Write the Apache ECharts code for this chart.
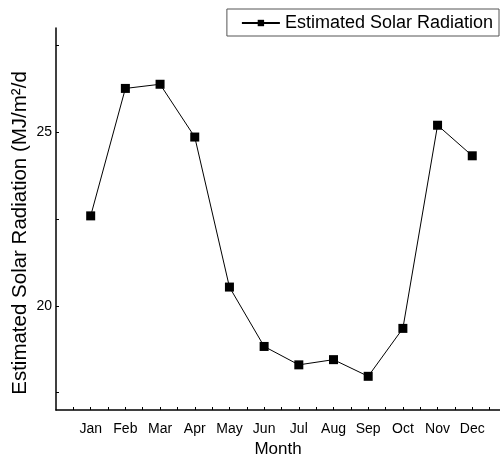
<!DOCTYPE html>
<html>
<head>
<meta charset="utf-8">
<script src="https://cdn.jsdelivr.net/npm/echarts@6/dist/echarts.min.js"></script>
<style>
  html, body { margin: 0; padding: 0; background: #fff; }
  #chart { width: 500px; height: 457px; }
</style>
</head>
<body>
<div id="chart"></div>
<script>
// monthly estimated solar radiation (MJ/m2/d)
const months = ['Jan', 'Feb', 'Mar', 'Apr', 'May', 'Jun', 'Jul', 'Aug', 'Sep', 'Oct', 'Nov', 'Dec'];
const radiation = [22.59, 26.26, 26.38, 24.86, 20.54, 18.83, 18.30, 18.45, 17.97, 19.35, 25.20, 24.32];
const yLabelValues = [20, 25];
const yTickValues = [17.5, 20, 22.5, 25, 27.5];

const font = 'Liberation Sans, Arial, sans-serif';
const xTickValues = [];
for (let i = 1; i <= 25; i++) xTickValues.push(i * 0.5);
const monthPos = months.map((m, i) => i + 1);

const chart = echarts.init(document.getElementById('chart'), null, { renderer: 'canvas' });
chart.setOption({
  animation: false,
  grid: { left: 56, right: 0, top: 28, bottom: 47, containLabel: false, outerBoundsMode: 'none' },
  legend: {
    right: 1,
    top: 9,
    orient: 'horizontal',
    padding: [5, 6, 4, 14],
    borderColor: '#555',
    borderWidth: 1,
    itemWidth: 38,
    itemHeight: 8,
    textStyle: { fontFamily: font, fontSize: 18, color: '#000' },
    data: ['Estimated Solar Radiation']
  },
  xAxis: {
    type: 'value',
    min: 0,
    max: 12.8,
    name: 'Month',
    nameLocation: 'middle',
    nameGap: 30,
    nameTextStyle: { fontFamily: font, fontSize: 17, color: '#000' },
    axisLine: { lineStyle: { color: '#000', width: 1.5 } },
    axisTick: { inside: true, length: 3, lineStyle: { color: '#000' }, customValues: xTickValues },
    axisLabel: {
      customValues: monthPos,
      formatter: v => months[Math.round(v) - 1] || '',
      fontFamily: font, fontSize: 14, color: '#000', margin: 12
    },
    splitLine: { show: false }
  },
  yAxis: {
    type: 'value',
    min: 17,
    max: 28,
    name: 'Estimated Solar Radiation (MJ/m\u00b2/d',
    nameLocation: 'middle',
    nameGap: 25,
    nameMoveOverlap: false,
    nameTextStyle: { fontFamily: font, fontSize: 20.5, color: '#000', padding: [0, 28, 0, 0] },
    axisLine: { show: true, lineStyle: { color: '#000', width: 1.5 } },
    axisTick: { show: true, inside: true, length: 3, lineStyle: { color: '#000' }, customValues: yTickValues },
    axisLabel: { customValues: yLabelValues, fontFamily: font, fontSize: 14, color: '#000', margin: 4 },
    splitLine: { show: false }
  },
  series: [{
    name: 'Estimated Solar Radiation',
    type: 'line',
    data: radiation.map((v, i) => [monthPos[i], v]),
    symbol: 'rect',
    symbolSize: 9,
    itemStyle: { color: '#000' },
    lineStyle: { color: '#000', width: 1 }
  }]
});
</script>
</body>
</html>
